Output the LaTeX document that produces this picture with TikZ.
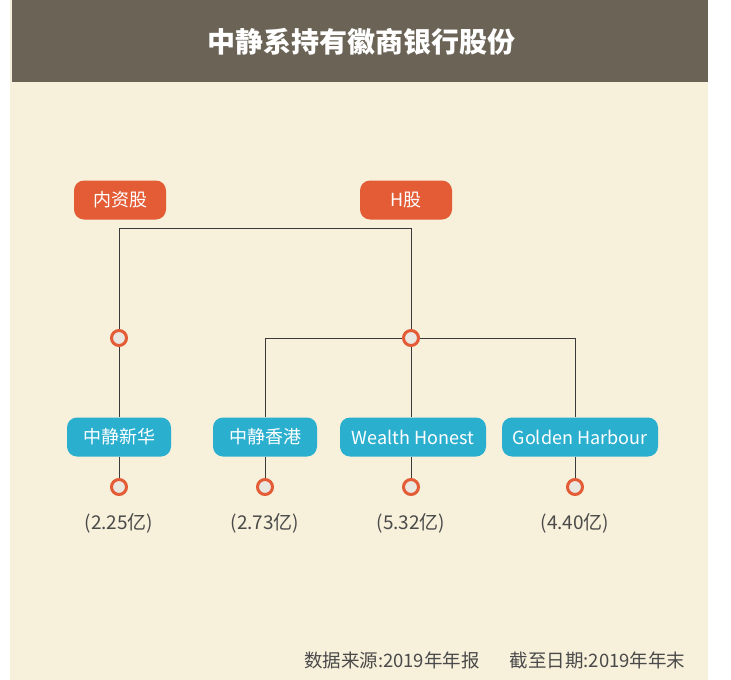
\documentclass[tikz,border=0pt]{standalone}
\usepackage{fontspec}
\setmainfont{Noto Sans CJK SC}
\usetikzlibrary{positioning}
\definecolor{barbrown}{HTML}{6A6356}
\definecolor{bgbeige}{HTML}{F7F0DB}
\definecolor{shareorange}{HTML}{E35C36}
\definecolor{holderblue}{HTML}{2BAFCF}
\definecolor{ringgrey}{HTML}{E9E7E0}
\definecolor{linegrey}{HTML}{3A3A3A}
\definecolor{amountgrey}{HTML}{4A4A4A}
\begin{document}
\begin{tikzpicture}[x=1pt,y=-1pt] % 1 unit = 1 px, y grows downward
\tikzstyle{sharebox} = [rectangle, rounded corners=10pt, fill=shareorange, text=white, minimum width=92pt, minimum height=39pt, inner sep=0pt, font=\fontsize{18}{18}\selectfont] % share class box
\tikzstyle{holder} = [rectangle, rounded corners=10pt, fill=holderblue, text=white, minimum height=39pt, inner sep=0pt, font=\fontsize{18}{18}\selectfont] % shareholder box
\tikzstyle{ring} = [circle, draw=shareorange, line width=3pt, fill=ringgrey, minimum size=15pt, inner sep=0pt] % junction ring
\tikzstyle{amount} = [text=amountgrey, font=\fontsize{19}{19}\selectfont] % number of shares
\tikzstyle{link} = [draw=linegrey, line width=0.8pt]
\useasboundingbox (0,0) rectangle (731,680);
% background and title bar
\fill[white] (0,0) rectangle (731,680);
\fill[bgbeige] (10,0) rectangle (708,680);
\fill[barbrown] (12,0) rectangle (708,82);
\node[text=white, font=\bfseries\fontsize{28}{28}\selectfont] (title) at (361,42) {中静系持有徽商银行股份};
% share classes
\node[sharebox] (domestic) at (120,200) {内资股};
\node[sharebox] (hshare) at (406,200) {H股};
\coordinate (j1) at (119,228);
\coordinate (j2) at (411,228);
\node[ring] (c1) at (119,338) {};
\node[ring] (c2) at (411,338) {};
% shareholders
\node[holder, minimum width=104pt] (xinhua) at (119,437) {中静新华};
\node[holder, minimum width=104pt] (hk) at (265,437) {中静香港};
\node[holder, minimum width=146pt] (wealth) at (413,437) {Wealth Honest};
\node[holder, minimum width=156pt] (golden) at (580,437) {Golden Harbour};
\node[ring] (d1) at (119,487) {};
\node[ring] (d2) at (265,487) {};
\node[ring] (d3) at (411,487) {};
\node[ring] (d4) at (575,487) {};
\node[amount, below=14pt of d1] (v1) {(2.25亿)};
\node[amount, below=14pt of d2] (v2) {(2.73亿)};
\node[amount, below=14pt of d3] (v3) {(5.32亿)};
\node[amount, below=14pt of d4] (v4) {(4.40亿)};
% connectors
\draw[link] (c1) -- (j1) -- (j2) -- (c2);
\draw[link] (c1) -- (xinhua);
\draw[link] (c2) -- (c2 |- wealth.north);
\draw[link] (c2) -| (hk.north);
\draw[link] (c2) -| (d4 |- golden.north);
\draw[link] (xinhua) -- (d1);
\draw[link] (hk) -- (d2);
\draw[link] (d3 |- wealth.south) -- (d3);
\draw[link] (d4 |- golden.south) -- (d4);
% source note
\node[anchor=east, text=amountgrey, font=\fontsize{18.5}{18.5}\selectfont] (source) at (689,660) {数据来源:2019年年报\hspace{30pt}截至日期:2019年年末};
\end{tikzpicture}
\end{document}
